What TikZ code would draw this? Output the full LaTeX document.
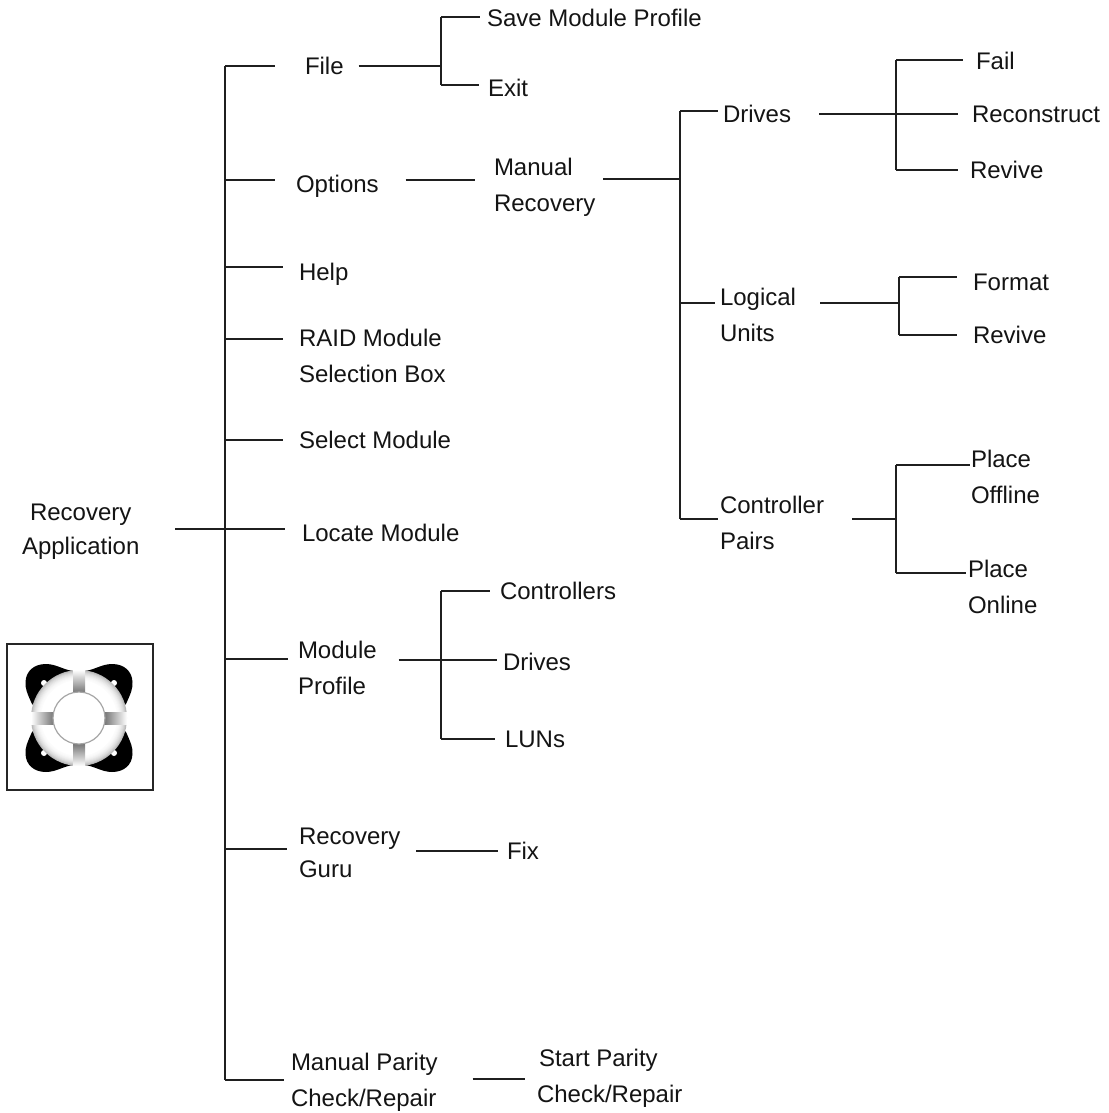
\documentclass[tikz,border=0pt]{standalone}
\usepackage{fontspec}
\setmainfont{Liberation Sans}
\newcommand{\St}{\strut}
\tikzset{
  lbl/.style={anchor=west,inner sep=0pt,outer sep=0pt,align=left,yshift=-1pt,text=black!92,font=\fontsize{24}{36}\selectfont},
  wire/.style={draw=black!88,line width=1.3pt},
  gapl/.style={shorten <=#1pt},
  gapr/.style={shorten >=#1pt},
  lobe/.style={fill=black,draw=none},
  strip/.style={draw=none}
}
\begin{document}
\begin{tikzpicture}[x=1pt,y=-1pt]
\useasboundingbox (0,0) rectangle (1108,1113);
\fill[white] (0,0) rectangle (1108,1113);
% labels
\node[lbl,align=center] (root) at (22,529) {\St Recovery\\[-2pt]\St Application};
\node[lbl] (file) at (305,66) {\St File};
\node[lbl] (options) at (296,184) {\St Options};
\node[lbl] (help) at (299,272) {\St Help};
\node[lbl] (raid) at (299,356) {\St RAID Module\\\St Selection Box};
\node[lbl] (select) at (299,440) {\St Select Module};
\node[lbl] (locate) at (302,533) {\St Locate Module};
\node[lbl] (modprof) at (298,668) {\St Module\\\St Profile};
\node[lbl] (guru) at (299,852.5) {\St Recovery\\[-3pt]\St Guru};
\node[lbl] (parity) at (291,1080) {\St Manual Parity\\\St Check/Repair};
\node[lbl] (save) at (487,18) {\St Save Module Profile};
\node[lbl] (exit) at (488,88) {\St Exit};
\node[lbl] (manual) at (494,185) {\St Manual\\\St Recovery};
\node[lbl] (drives) at (723,114) {\St Drives};
\node[lbl] (logical) at (720,315) {\St Logical\\\St Units};
\node[lbl] (pairs) at (720,523) {\St Controller\\\St Pairs};
\node[lbl] (fail) at (976,61) {\St Fail};
\node[lbl] (recon) at (972,114) {\St Reconstruct};
\node[lbl] (revive) at (970,170) {\St Revive};
\node[lbl] (format) at (973,282) {\St Format};
\node[lbl] (revivelu) at (973,335) {\St Revive};
\node[lbl] (offline) at (971,477) {\St Place\\\St Offline};
\node[lbl] (online) at (968,587) {\St Place\\\St Online};
\node[lbl] (ctrl) at (500,591) {\St Controllers};
\node[lbl] (mdrives) at (503,662) {\St Drives};
\node[lbl] (luns) at (505,739) {\St LUNs};
\node[lbl] (fix) at (507,851) {\St Fix};
\node[lbl] (start) at (537,1076) {\hspace{2pt}\St Start Parity\\\St Check/Repair};
% junction points
\coordinate (tFile) at (225,66);
\coordinate (tOptions) at (225,180);
\coordinate (tHelp) at (225,267);
\coordinate (tRaid) at (225,339);
\coordinate (tSelect) at (225,440);
\coordinate (tRoot) at (225,529);
\coordinate (tProf) at (225,659);
\coordinate (tGuru) at (225,849);
\coordinate (tParity) at (225,1080);
\coordinate (aTop) at (441,17);
\coordinate (aMid) at (441,66);
\coordinate (aBot) at (441,85);
\coordinate (bDrives) at (680,111);
\coordinate (bMid) at (680,179);
\coordinate (bLog) at (680,303);
\coordinate (bPairs) at (680,519);
\coordinate (cTop) at (896,60);
\coordinate (cMid) at (896,114);
\coordinate (cBot) at (896,170);
\coordinate (dTop) at (899,277);
\coordinate (dMid) at (899,303);
\coordinate (dBot) at (899,335);
\coordinate (eTop) at (896,465);
\coordinate (eMid) at (896,519);
\coordinate (eBot) at (896,573);
\coordinate (fTop) at (441,591);
\coordinate (fMid) at (441,660);
\coordinate (fBot) at (441,739);
\coordinate (gOpt) at (475,180);
\coordinate (gGuru) at (498,851);
\coordinate (gPar) at (525,1079);
% trunks
\draw[wire] (tFile) -- (tParity);
\draw[wire] (aTop) -- (aBot);
\draw[wire] (bDrives) -- (bPairs);
\draw[wire] (cTop) -- (cBot);
\draw[wire] (dTop) -- (dBot);
\draw[wire] (eTop) -- (eBot);
\draw[wire] (fTop) -- (fBot);
% level 1
\draw[wire,gapl=36] (root.east |- tRoot) -- (tRoot);
\draw[wire,gapr=30] (tFile) -- (tFile -| file.west);
\draw[wire,gapr=21] (tOptions) -- (tOptions -| options.west);
\draw[wire,gapr=16] (tHelp) -- (tHelp -| help.west);
\draw[wire,gapr=16] (tRaid) -- (tRaid -| raid.west);
\draw[wire,gapr=16] (tSelect) -- (tSelect -| select.west);
\draw[wire,gapr=17] (tRoot) -- (tRoot -| locate.west);
\draw[wire,gapr=10] (tProf) -- (tProf -| modprof.west);
\draw[wire,gapr=12] (tGuru) -- (tGuru -| guru.west);
\draw[wire,gapr=7] (tParity) -- (tParity -| parity.west);
% file
\draw[wire,gapl=15] (file.east |- aMid) -- (aMid);
\draw[wire,gapr=7] (aTop) -- (aTop -| save.west);
\draw[wire,gapr=9] (aBot) -- (aBot -| exit.west);
% options
\draw[wire,gapl=27,gapr=19] (options.east |- gOpt) -- (gOpt -| manual.west);
\draw[wire,gapl=8] (manual.east |- bMid) -- (bMid);
\draw[wire,gapr=5] (bDrives) -- (bDrives -| drives.west);
\draw[wire,gapr=5] (bLog) -- (bLog -| logical.west);
\draw[wire,gapr=2] (bPairs) -- (bPairs -| pairs.west);
\draw[wire,gapl=28] (drives.east |- cMid) -- (cMid);
\draw[wire,gapr=13] (cTop) -- (cTop -| fail.west);
\draw[wire,gapr=14] (cMid) -- (cMid -| recon.west);
\draw[wire,gapr=12] (cBot) -- (cBot -| revive.west);
\draw[wire,gapl=24] (logical.east |- dMid) -- (dMid);
\draw[wire,gapr=16] (dTop) -- (dTop -| format.west);
\draw[wire,gapr=16] (dBot) -- (dBot -| revivelu.west);
\draw[wire,gapl=28] (pairs.east |- eMid) -- (eMid);
\draw[wire,gapr=1] (eTop) -- (eTop -| offline.west);
\draw[wire,gapr=2] (eBot) -- (eBot -| online.west);
% module profile
\draw[wire,gapl=22] (modprof.east |- fMid) -- (fMid);
\draw[wire,gapr=10] (fTop) -- (fTop -| ctrl.west);
\draw[wire,gapr=6] (fMid) -- (fMid -| mdrives.west);
\draw[wire,gapr=10] (fBot) -- (fBot -| luns.west);
% guru, parity
\draw[wire,gapl=16,gapr=9] (guru.east |- gGuru) -- (gGuru -| fix.west);
\draw[wire,gapl=35,gapr=12] (parity.east |- gPar) -- (gPar -| start.west);
% icon
\draw[black!85,line width=1.3pt,fill=white] (7,644) rectangle (153,790);
\begin{scope}[shift={(79,718)}]
  \foreach \sx/\sy in {1/1,-1/1,1/-1,-1/-1}{
    \begin{scope}[xscale=\sx,yscale=\sy]
      \path[lobe] (-47,-14) .. controls (-52,-25) and (-54,-30) .. (-53.5,-36) .. controls (-53,-47) and (-45,-54) .. (-33,-54) .. controls (-22,-54) and (-14,-47) .. (-4,-47) -- (0,-30) -- (-30,0) -- cycle;
      \fill[white] (-35,-35) circle (3);
    \end{scope}
  }
  \foreach \r/\c in {48/28,47/22,46/17,45/13,44/10,43/7,42/5,41/3,40/2,39/1,38/0}{
    \fill[black!\c] (0,0) circle (\r);
  }
  \shade[strip,top color=white,bottom color=black!55] (-6,-48) rectangle (6,-25);
  \shade[strip,top color=black!55,bottom color=white] (-6,25) rectangle (6,48);
  \shade[strip,left color=white,right color=black!55] (-48,-6) rectangle (-25,6);
  \shade[strip,left color=black!55,right color=white] (25,-6) rectangle (48,6);
  \draw[black!35,line width=1.2pt,fill=white] (0,0) circle (26);
\end{scope}
\end{tikzpicture}
\end{document}
